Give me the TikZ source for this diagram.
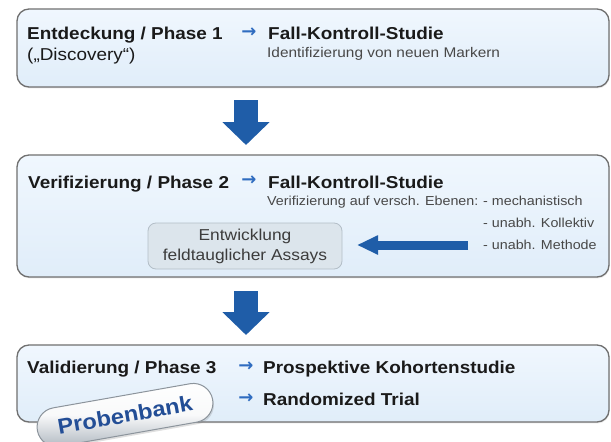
\documentclass[tikz,border=0pt]{standalone}
\usepackage{fontspec}
\setmainfont{Liberation Sans}[FakeStretch=1.1]
\newfontfamily\arrowfont{DejaVu Sans}
\usetikzlibrary{shapes.misc,shadows,arrows.meta}
\definecolor{boxtop}{HTML}{F0F7FE}
\definecolor{boxbot}{HTML}{E0EDF9}
\definecolor{boxline}{HTML}{707070}
\definecolor{innerfill}{HTML}{DCE5EC}
\definecolor{innerline}{HTML}{B3BEC7}
\definecolor{bigblue}{HTML}{1F5DA8}
\definecolor{smallblue}{HTML}{2F6CC0}
\definecolor{probeblue}{HTML}{234E96}
\definecolor{pillline}{HTML}{8C949C}
\definecolor{pillbot}{HTML}{AEB6BF}
\definecolor{txt}{HTML}{1A1A1A}
\begin{document}
\begin{tikzpicture}[x=1pt,y=-1pt,
  phasebox/.style={draw=boxline, line width=1.3pt, rounded corners=12pt,
    top color=boxtop, bottom color=boxbot, inner sep=0pt,
    drop shadow={opacity=0.18, shadow xshift=0.6pt, shadow yshift=-1.4pt}},
  innerbox/.style={draw=innerline, line width=0.8pt, rounded corners=8pt,
    fill=innerfill, align=center, inner sep=0pt, minimum width=194pt,
    minimum height=46pt, font=\fontsize{15.8}{20}\selectfont, text=txt!85},
  head/.style={anchor=base west, inner sep=0pt,
    font=\fontsize{17.2}{20}\selectfont\bfseries, text=txt},
  sub/.style={anchor=base west, inner sep=0pt,
    font=\fontsize{17.2}{20}\selectfont, text=txt},
  small/.style={anchor=base west, inner sep=0pt,
    font=\fontsize{13}{15}\selectfont, text=txt!80},
  tinyarrow/.style={anchor=center, inner sep=0pt,
    font=\arrowfont\fontsize{18}{20}\selectfont\bfseries, text=smallblue},
  bigarrow/.style={draw=bigblue, line width=24pt,
    -{Triangle[length=23pt,width=46pt]}},
  sidearrow/.style={draw=bigblue, line width=9pt,
    -{Triangle[length=21pt,width=18pt]}},
  pill/.style={rounded rectangle, draw=pillline, line width=1pt,
    top color=white, bottom color=pillbot, middle color=white!92!pillbot,
    minimum width=178pt, minimum height=39pt, rotate=10, inner sep=0pt,
    font=\fontsize{21.5}{24}\selectfont\bfseries, text=probeblue,
    drop shadow={opacity=0.25, shadow xshift=1pt, shadow yshift=-2pt}},
]
\useasboundingbox (0,0) rectangle (611,442);
\fill[white] (0,0) rectangle (611,442);

% Phase 1
\node[phasebox, minimum width=592pt, minimum height=78pt] (b1) at (313,48) {};
\node[head] (t1) at (27,39) {Entdeckung / Phase 1};
\node[sub] (t1b) at (27,60) {(„Discovery“)};
\node[tinyarrow] (r1) at (249,33) {→};
\node[head] (f1) at (268,39) {Fall-Kontroll-Studie};
\node[small, font=\fontsize{14}{16}\selectfont] (i1) at (267,57) {Identifizierung von neuen Markern};

% arrow 1
\coordinate (a1s) at (246,100);
\coordinate (a1e) at (246,145);
\draw[bigarrow] (a1s) -- (a1e);

% Phase 2
\node[phasebox, minimum width=592pt, minimum height=122pt] (b2) at (313,216) {};
\node[head] (t2) at (28,188) {Verifizierung / Phase 2};
\node[tinyarrow] (r2) at (249,181) {→};
\node[head] (f2) at (268,188) {Fall-Kontroll-Studie};
\node[small] (v2) at (267,205) {Verifizierung auf versch. Ebenen:};
\node[small] (m1) at (483,205) {- mechanistisch};
\node[small] (m2) at (483,227) {- unabh. Kollektiv};
\node[small] (m3) at (483,249) {- unabh. Methode};
\node[innerbox] (assay) at (245,246) {Entwicklung\\feldtauglicher Assays};
\coordinate (ls) at (468,245);
\coordinate (le) at (357,245);
\draw[sidearrow] (ls) -- (le);

% arrow 2
\coordinate (a2s) at (246,291);
\coordinate (a2e) at (246,335);
\draw[bigarrow] (a2s) -- (a2e);

% Phase 3
\node[phasebox, minimum width=592pt, minimum height=77pt] (b3) at (313,383.5) {};
\node[head] (t3) at (27,373) {Validierung / Phase 3};
\node[tinyarrow] (r3) at (246,367) {→};
\node[head] (p3) at (263,373) {Prospektive Kohortenstudie};
\node[tinyarrow] (r4) at (246,399) {→};
\node[head] (rt) at (263,405) {Randomized Trial};

% Probenbank
\node[pill] (probe) at (125,415) {Probenbank};
\end{tikzpicture}
\end{document}
